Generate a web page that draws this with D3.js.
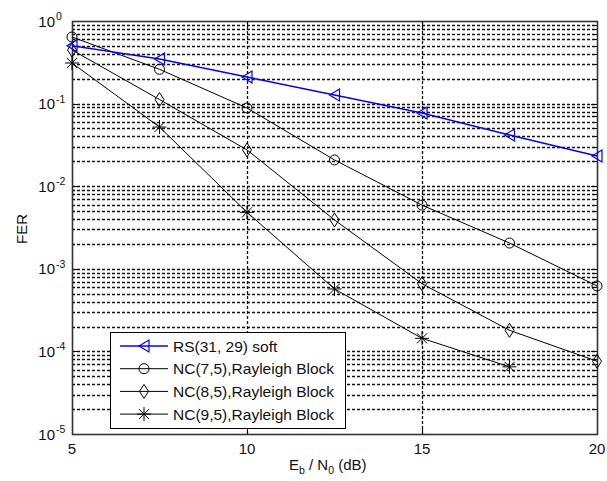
<!DOCTYPE html>
<html><head><meta charset="utf-8">
<script src="https://cdn.jsdelivr.net/npm/d3@7"></script>
<style>body{margin:0;background:#fff;} text{font-family:"Liberation Sans",Arial,sans-serif;fill:#111;}</style>
</head><body>
<svg id="c" width="607" height="481"></svg>
<script>
const xValues = [5, 7.5, 10, 12.5, 15, 17.5, 20];
const rsSoft = [0.50, 0.347, 0.21, 0.127, 0.077, 0.0417, 0.0232];
const nc75 = [0.64, 0.26, 0.0885, 0.0208, 0.0059, 0.00205, 0.00062];
const nc85 = [0.446, 0.112, 0.0275, 0.0039, 0.00066, 0.00018, 0.000076];
const nc95 = [0.31, 0.052, 0.00483, 0.00057, 0.000144, 0.000065];
const seriesNames = ["RS(31, 29) soft", "NC(7,5),Rayleigh Block", "NC(8,5),Rayleigh Block", "NC(9,5),Rayleigh Block"];
const xTicks = [5, 10, 15, 20];
const yExps = [0, -1, -2, -3, -4, -5];

const svg = d3.select("#c");
const L = 72, R = 597, T = 21, B = 434;
const x = d3.scaleLinear().domain([5, 20]).range([L, R]);
const y = d3.scaleLog().domain([1e-5, 1]).range([B, T]);

const g = svg.append("g");
const minors = [];
for (let e = -5; e < 0; e++) for (let m = 2; m <= 9; m++) minors.push(m * Math.pow(10, e));
const majors = yExps.map(e => Math.pow(10, e));

const gridStyle = s => s.attr("stroke", "#111").attr("stroke-width", 1.3).attr("stroke-dasharray", "3,2").attr("fill", "none");
g.selectAll(".hg").data(minors.concat(majors.filter(v => v < 1 && v > 1e-5))).enter().append("line")
  .attr("x1", L).attr("x2", R).attr("y1", d => Math.round(y(d)) + 0.5).attr("y2", d => Math.round(y(d)) + 0.5).call(gridStyle);
g.selectAll(".vg").data(xTicks.filter(v => v > 5 && v < 20)).enter().append("line")
  .attr("y1", T).attr("y2", B).attr("x1", d => Math.round(x(d)) + 0.5).attr("x2", d => Math.round(x(d)) + 0.5).call(gridStyle);

const tk = g.append("g").attr("stroke", "#000").attr("stroke-width", 1);
majors.forEach(v => {
  const yy = Math.round(y(v)) + 0.5;
  tk.append("line").attr("x1", L).attr("x2", L + 6).attr("y1", yy).attr("y2", yy);
  tk.append("line").attr("x1", R).attr("x2", R - 6).attr("y1", yy).attr("y2", yy);
});
minors.forEach(v => {
  const yy = Math.round(y(v)) + 0.5;
  tk.append("line").attr("x1", L).attr("x2", L + 3).attr("y1", yy).attr("y2", yy);
  tk.append("line").attr("x1", R).attr("x2", R - 3).attr("y1", yy).attr("y2", yy);
});
xTicks.forEach(v => {
  const xx = Math.round(x(v)) + 0.5;
  tk.append("line").attr("x1", xx).attr("x2", xx).attr("y1", B).attr("y2", B - 6);
  tk.append("line").attr("x1", xx).attr("x2", xx).attr("y1", T).attr("y2", T + 6);
});

g.append("rect").attr("x", L + 0.5).attr("y", T + 0.5).attr("width", R - L).attr("height", B - T)
  .attr("fill", "none").attr("stroke", "#333").attr("stroke-width", 1.6);

g.selectAll(".xl").data(xTicks).enter().append("text")
  .attr("x", d => x(d)).attr("y", 454).attr("text-anchor", "middle").attr("font-size", 15).text(d => d);
yExps.forEach(e => {
  g.append("text").attr("x", 55).attr("y", y(Math.pow(10, e)) + 5.5).attr("text-anchor", "end").attr("font-size", 15).text("10");
  g.append("text").attr("x", 56).attr("y", y(Math.pow(10, e)) - 1).attr("font-size", 10.5).text(e);
});

g.append("text").attr("transform", "translate(27,229) rotate(-90)").attr("text-anchor", "middle").attr("font-size", 15).text("FER");
const xl = g.append("text").attr("x", 289).attr("y", 470).attr("font-size", 15);
xl.append("tspan").text("E");
xl.append("tspan").attr("dy", 4).attr("font-size", 10.5).text("b");
xl.append("tspan").attr("dy", -4).text(" / N");
xl.append("tspan").attr("dy", 4).attr("font-size", 10.5).text("0");
xl.append("tspan").attr("dy", -4).text(" (dB)");

function marker(sel, type, color) {
  if (type === "tri") sel.append("path").attr("d", "M-5,0L5,-6L5,6Z").attr("fill", "none").attr("stroke", color).attr("stroke-width", 1.2);
  else if (type === "circle") sel.append("circle").attr("r", 5).attr("fill", "none").attr("stroke", color).attr("stroke-width", 1);
  else if (type === "diamond") sel.append("path").attr("d", "M0,-7L4.5,0L0,7L-4.5,0Z").attr("fill", "none").attr("stroke", color).attr("stroke-width", 1);
  else if (type === "star") sel.append("path").attr("d", "M-7,0H7M0,-7V7M-5,-5L5,5M-5,5L5,-5").attr("fill", "none").attr("stroke", color).attr("stroke-width", 1);
}

const series = [
  {name: seriesNames[0], vals: rsSoft, color: "#0000ff", m: "tri", w: 1.5},
  {name: seriesNames[1], vals: nc75, color: "#000", m: "circle", w: 1},
  {name: seriesNames[2], vals: nc85, color: "#000", m: "diamond", w: 1},
  {name: seriesNames[3], vals: nc95, color: "#000", m: "star", w: 1}
];
const line = d3.line().x(d => x(d[0])).y(d => y(d[1]));
series.slice().reverse().forEach(s => {
  const pts = s.vals.map((v, i) => [xValues[i], v]);
  g.append("path").attr("d", line(pts)).attr("fill", "none").attr("stroke", s.color).attr("stroke-width", s.w);
  pts.forEach(p => marker(g.append("g").attr("transform", `translate(${x(p[0])},${y(p[1])})`), s.m, s.color));
});

const lg = g.append("g");
lg.append("rect").attr("x", 110.5).attr("y", 332.5).attr("width", 235).attr("height", 96).attr("fill", "#fff").attr("stroke", "#000").attr("stroke-width", 1);
series.forEach((s, i) => {
  const yy = 346 + i * 22.7;
  lg.append("line").attr("x1", 120).attr("x2", 168).attr("y1", yy).attr("y2", yy).attr("stroke", s.color).attr("stroke-width", s.w);
  marker(lg.append("g").attr("transform", `translate(144,${yy})`), s.m, s.color);
  lg.append("text").attr("x", 173).attr("y", yy + 5.5).attr("font-size", 15.5).text(s.name);
});
</script>
</body></html>
